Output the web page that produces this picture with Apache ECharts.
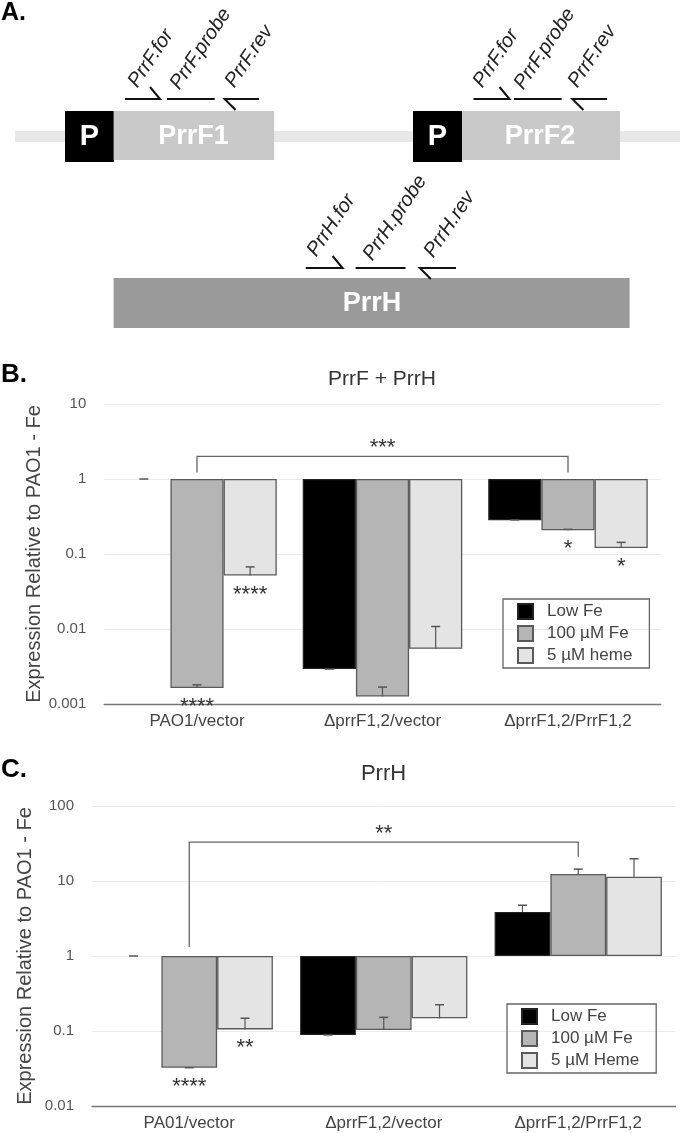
<!DOCTYPE html>
<html><head><meta charset="utf-8">
<script src="https://cdn.jsdelivr.net/npm/echarts@6/dist/echarts.min.js"></script>
<style>html,body{margin:0;padding:0;background:#fff}#c{width:680px;height:1133px}</style>
</head><body><div id="c"></div>
<script>
// ---------- DATA ----------
const categoriesB = ['PAO1/vector', 'ΔprrF1,2/vector', 'ΔprrF1,2/PrrF1,2'];
const categoriesC = ['PA01/vector', 'ΔprrF1,2/vector', 'ΔprrF1,2/PrrF1,2'];
const seriesNamesB = ['Low Fe', '100 µM Fe', '5 µM heme'];
const seriesNamesC = ['Low Fe', '100 µM Fe', '5 µM Heme'];
const yTicksB = ['0.001', '0.01', '0.1', '1', '10'];
const yTicksC = ['0.01', '0.1', '1', '10', '100'];

// Panel B: PrrF + PrrH
const lowFeB = [1, 0.00292, 0.282];
const lowFeHiB = [1, 0.00292, 0.285];
const fe100B = [0.00163, 0.00126, 0.207];
const fe100HiB = [0.0018, 0.00168, 0.213];
const hemeB = [0.0515, 0.00546, 0.12];
const hemeHiB = [0.0673, 0.0108, 0.143];
const sigB = [[0, 1, '****'], [0, 2, '****'], [2, 1, '*'], [2, 2, '*']];
const bracketB = { from: 0, to: 2, series: 1, top: 2.0, leftEnd: 1.22, rightEnd: 1.22, text: '***' };

// Panel C: PrrH
const lowFeC = [1, 0.0885, 3.86];
const lowFeHiC = [1, 0.0885, 4.75];
const fe100C = [0.0324, 0.103, 12.4];
const fe100HiC = [0.0324, 0.152, 14.4];
const hemeC = [0.105, 0.1475, 11.4];
const hemeHiC = [0.148, 0.224, 19.8];
const sigC = [[0, 1, '****'], [0, 2, '**']];
const bracketC = { from: 0, to: 2, series: 1, top: 33, leftEnd: 1.32, rightEnd: 21, text: '**' };

// Panel A labels
const primerLabelsF = ['PrrF.for', 'PrrF.probe', 'PrrF.rev'];
const primerLabelsH = ['PrrH.for', 'PrrH.probe', 'PrrH.rev'];
const geneNames = ['PrrF1', 'PrrF2', 'PrrH'];

// ---------- STYLE ----------
const FONT = '"Liberation Sans", Arial, sans-serif';
const COLORS = ['#000000', '#b5b5b5', '#e4e4e4'];
const BORDER = '#5a5a5a';
const GAP = 0.14;

const chart = echarts.init(document.getElementById('c'), null, { renderer: 'canvas' });

function barSeries(name, data, idx, gi) {
  return {
    type: 'bar', name: name, xAxisIndex: gi, yAxisIndex: gi,
    // a bar equal to 1 has no height on the log axis: hide its outline
    data: data.map(v => v === 1 ? { value: v, itemStyle: { borderWidth: 0 } } : v),
    barGap: '0%', barCategoryGap: (GAP * 100) + '%',
    itemStyle: { color: COLORS[idx], borderColor: idx === 0 ? '#222' : BORDER, borderWidth: 1.3 },
    silent: true, z: 2
  };
}

function barX(api, cat, s, v) {
  const c0 = api.coord([0, v]);
  const c1 = api.coord([1, v]);
  const band = c1[0] - c0[0];
  const bw = band * (1 - GAP) / 3;
  const c = api.coord([cat, v]);
  return c[0] + (s - 1) * bw;
}

function errSeries(gi, s, vals, hi) {
  return {
    type: 'custom', xAxisIndex: gi, yAxisIndex: gi, silent: true, z: 5,
    data: vals.map((v, i) => [i, v, hi[i]]),
    renderItem(params, api) {
      const cat = api.value(0), v = api.value(1), h = api.value(2);
      const x = barX(api, cat, s, v);
      const y1 = api.coord([cat, v])[1];
      const y2 = api.coord([cat, h])[1];
      return { type: 'group', children: [
        { type: 'line', shape: { x1: x, y1: y1, x2: x, y2: y2 }, style: { stroke: '#555', lineWidth: 1.2 } },
        { type: 'line', shape: { x1: x - 4.5, y1: y2, x2: x + 4.5, y2: y2 }, style: { stroke: '#555', lineWidth: 1.5 } }
      ]};
    }
  };
}

function sigSeries(gi, sig, valueSets) {
  return {
    type: 'custom', xAxisIndex: gi, yAxisIndex: gi, silent: true, z: 6,
    data: sig.map(d => [d[0], d[1], valueSets[d[1]][d[0]]]),
    renderItem(params, api) {
      const cat = api.value(0), s = api.value(1), v = api.value(2);
      const x = barX(api, cat, s, v);
      const y = api.coord([cat, v])[1];
      return { type: 'text', x: x, y: y + 19,
        style: { text: sig[params.dataIndex][2], font: '22px ' + FONT, fill: '#333', textAlign: 'center', textVerticalAlign: 'middle' } };
    }
  };
}

function bracketSeries(gi, br) {
  return {
    type: 'custom', xAxisIndex: gi, yAxisIndex: gi, silent: true, z: 6,
    data: [[br.from, br.to, br.top, br.leftEnd, br.rightEnd]],
    renderItem(params, api) {
      const xl = barX(api, api.value(0), br.series, br.top);
      const xr = barX(api, api.value(1), br.series, br.top);
      const yt = api.coord([0, api.value(2)])[1];
      const yl = api.coord([0, api.value(3)])[1];
      const yr = api.coord([0, api.value(4)])[1];
      return { type: 'group', children: [
        { type: 'polyline', shape: { points: [[xl, yl], [xl, yt], [xr, yt], [xr, yr]] }, style: { stroke: '#666', lineWidth: 1.3, fill: null } },
        { type: 'text', x: (xl + xr) / 2, y: yt + 3, style: { text: br.text, font: '22px ' + FONT, fill: '#333', textAlign: 'center', textVerticalAlign: 'bottom' } }
      ]};
    }
  };
}

function yAxisDef(gi, min, max, ticks, gap) {
  return {
    type: 'log', logBase: 10, min: min, max: max, gridIndex: gi,
    axisLine: { show: false }, axisTick: { show: false },
    splitLine: { show: true, lineStyle: { color: '#ececec', width: 1 } },
    axisLabel: { fontFamily: FONT, fontSize: 15, color: '#555', margin: 18,
      formatter: v => { const k = Math.round(Math.log10(v) - Math.log10(min)); return ticks[k] || ''; } },
    name: 'Expression Relative to PAO1 - Fe', nameLocation: 'middle', nameGap: gap,
    nameMoveOverlap: false,
    nameTextStyle: { fontFamily: FONT, fontSize: 20, color: '#444' }
  };
}

function xAxisDef(gi, cats) {
  return {
    type: 'category', data: cats, gridIndex: gi,
    axisLine: { onZero: false, lineStyle: { color: '#777', width: 1.3 } },
    axisTick: { show: false },
    axisLabel: { fontFamily: FONT, fontSize: 17, color: '#444', margin: 9 }
  };
}

function legendDef(names, left, top) {
  return {
    data: names, orient: 'vertical', left: left, top: top,
    icon: 'rect', itemWidth: 15, itemHeight: 15, itemGap: 5,
    padding: [4, 17, 4, 14], borderColor: '#666', borderWidth: 1.3,
    textStyle: { fontFamily: FONT, fontSize: 17, color: '#444', padding: [0, 0, 0, 9] },
    selectedMode: false
  };
}

// ---------- Panel A schematic ----------
function rect(x, y, w, h, fill) { return { type: 'rect', shape: { x: x, y: y, width: w, height: h }, style: { fill: fill }, silent: true }; }
function txt(x, y, t, font, fill, align, valign, rot) {
  return { type: 'text', x: x, y: y, rotation: rot || 0, silent: true,
    style: { text: t, font: font, fill: fill, textAlign: align || 'center', textVerticalAlign: valign || 'middle' } };
}
function pl(pts) { return { type: 'polyline', shape: { points: pts }, style: { stroke: '#111', lineWidth: 2, fill: null }, silent: true }; }
const ROT = 56 * Math.PI / 180;
const ital = 'italic 20px ' + FONT;

function primerSet(forX, probeX, revX, y, labels, labelPos) {
  const out = [
    pl([[forX[0], y], [forX[1], y], [forX[1] - 10, y - 12]]),
    pl([[probeX[0], y], [probeX[1], y]]),
    pl([[revX[1], y], [revX[0], y], [revX[0] + 11, y + 11]])
  ];
  labels.forEach((l, i) => out.push(txt(labelPos[i][0], labelPos[i][1], l, ital, '#222', 'left', 'bottom', ROT)));
  return out;
}

const graphics = [].concat(
  [
    txt(1, 13, 'A.', 'bold 25px ' + FONT, '#000', 'left', 'middle'),
    rect(15, 131, 665, 11, '#e8e8e8'),
    rect(65, 111, 49, 51, '#000'),
    rect(113.6, 111, 160.5, 49, '#c9c9c9'),
    rect(413, 111, 49, 51, '#000'),
    rect(462, 111, 158, 49, '#c9c9c9'),
    rect(113.6, 278, 516, 50, '#9a9a9a'),
    txt(89.5, 137, 'P', 'bold 29px ' + FONT, '#fff'),
    txt(437.5, 137, 'P', 'bold 29px ' + FONT, '#fff'),
    txt(193.5, 137, geneNames[0], 'bold 27px ' + FONT, '#fff'),
    txt(540, 137, geneNames[1], 'bold 27px ' + FONT, '#fff'),
    txt(372, 304, geneNames[2], 'bold 27px ' + FONT, '#fff'),
    txt(1, 375, 'B.', 'bold 26px ' + FONT, '#000', 'left', 'middle'),
    txt(1, 770, 'C.', 'bold 26px ' + FONT, '#000', 'left', 'middle'),
    txt(382, 379, 'PrrF + PrrH', '21px ' + FONT, '#333'),
    txt(383.5, 774, 'PrrH', '22px ' + FONT, '#333')
  ],
  primerSet([125, 160], [167, 214.7], [224.6, 259], 99, primerLabelsF, [[141, 91], [183, 93], [238, 91]]),
  primerSet([473.5, 509.5], [514, 561.6], [572.4, 607], 99, primerLabelsF, [[486, 91], [527, 93], [581, 91]]),
  primerSet([305.7, 342.6], [355.6, 405.5], [419.8, 456], 268, primerLabelsH, [[320, 260], [376, 264], [437, 261]])
);

const valsB = [lowFeB, fe100B, hemeB];
const valsC = [lowFeC, fe100C, hemeC];

const option = {
  animation: false,
  backgroundColor: '#fff',
  textStyle: { fontFamily: FONT },
  grid: [
    { left: 104.25, right: 19.25, top: 404, height: 300 },
    { left: 92, right: 4.5, top: 806, height: 300 }
  ],
  xAxis: [xAxisDef(0, categoriesB), xAxisDef(1, categoriesC)],
  yAxis: [yAxisDef(0, 0.001, 10, yTicksB, 60), yAxisDef(1, 0.01, 100, yTicksC, 57)],
  legend: [legendDef(seriesNamesB, 503, 599), legendDef(seriesNamesC, 507, 1004)],
  series: [
    barSeries(seriesNamesB[0], lowFeB, 0, 0),
    barSeries(seriesNamesB[1], fe100B, 1, 0),
    barSeries(seriesNamesB[2], hemeB, 2, 0),
    barSeries(seriesNamesC[0], lowFeC, 0, 1),
    barSeries(seriesNamesC[1], fe100C, 1, 1),
    barSeries(seriesNamesC[2], hemeC, 2, 1),
    errSeries(0, 0, lowFeB, lowFeHiB),
    errSeries(0, 1, fe100B, fe100HiB),
    errSeries(0, 2, hemeB, hemeHiB),
    errSeries(1, 0, lowFeC, lowFeHiC),
    errSeries(1, 1, fe100C, fe100HiC),
    errSeries(1, 2, hemeC, hemeHiC),
    sigSeries(0, sigB, valsB),
    sigSeries(1, sigC, valsC),
    bracketSeries(0, bracketB),
    bracketSeries(1, bracketC)
  ],
  graphic: graphics
};
chart.setOption(option);
</script></body></html>
